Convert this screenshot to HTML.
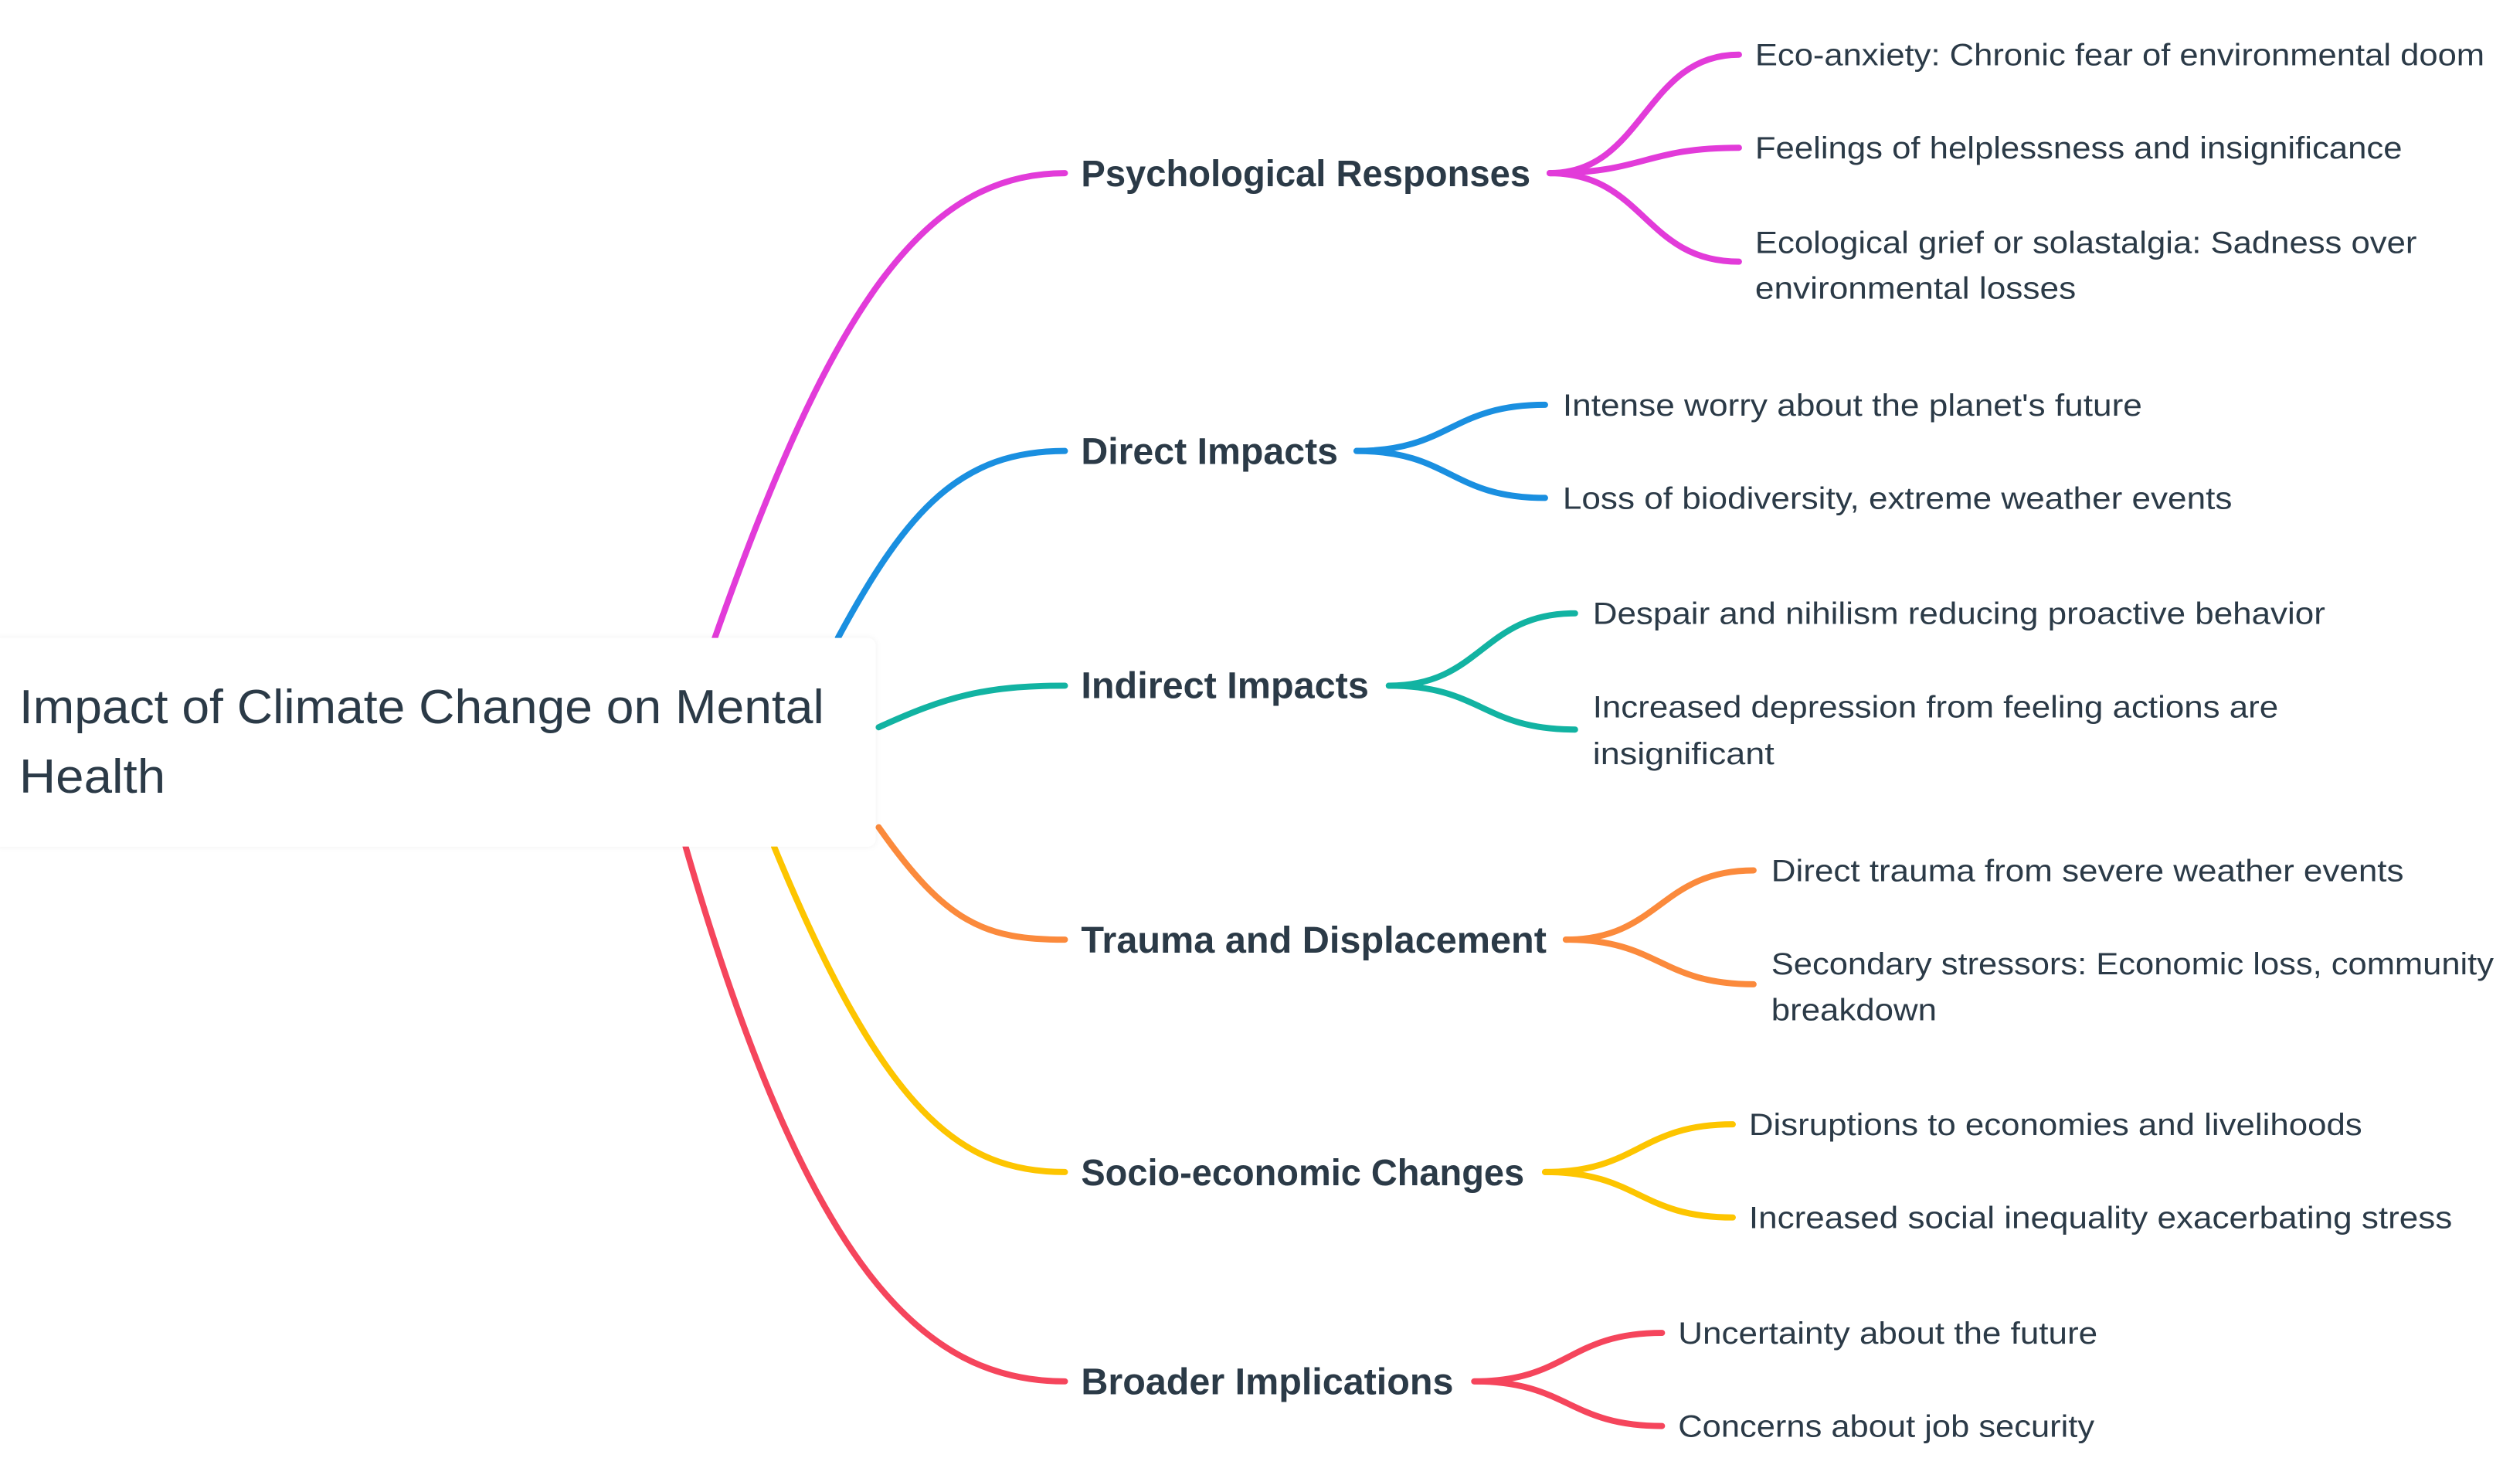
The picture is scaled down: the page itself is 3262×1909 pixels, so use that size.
<!DOCTYPE html>
<html><head><meta charset="utf-8"><style>
html,body{margin:0;padding:0;background:#fff;}
svg{display:block;}
text{font-family:"Liberation Sans",sans-serif;fill:#2b3a47;}
.b{font-weight:bold;font-size:48px;}
.c{font-size:40px;}
.r{font-size:62px;}
path{fill:none;stroke-width:8;stroke-linecap:round;}
</style></head><body>
<svg width="3262" height="1909" viewBox="0 0 3262 1909" xmlns="http://www.w3.org/2000/svg">
<defs><filter id="sh" x="-5%" y="-10%" width="110%" height="120%"><feDropShadow dx="0" dy="0" stdDeviation="4" flood-color="#000" flood-opacity="0.06"/></filter></defs>
<g transform="scale(0.996)">
<path stroke="#e23bd9" d="M929,829 C1080,400 1200,225 1384,225"/>
<path stroke="#1a8fe0" d="M1089,829 C1180,660 1250,586 1384,586"/>
<path stroke="#12b3a2" d="M1142,945 C1230,905 1280,891 1384,891"/>
<path stroke="#fb8a3c" d="M1142,1075 C1230,1200 1280,1221 1384,1221"/>
<path stroke="#fdc500" d="M1006,1100 C1150,1450 1250,1523 1384,1523"/>
<path stroke="#f5455c" d="M891,1100 C1050,1650 1200,1795 1384,1795"/>
<rect x="-10" y="829" width="1148" height="271" rx="10" fill="#fff" filter="url(#sh)"/>
<text class="r" x="25" y="940" textLength="1046" lengthAdjust="spacingAndGlyphs">Impact of Climate Change on Mental</text>
<text class="r" x="25" y="1030" textLength="190" lengthAdjust="spacingAndGlyphs">Health</text>
<text class="b" x="1405" y="242" textLength="584" lengthAdjust="spacingAndGlyphs">Psychological Responses</text>
<text class="b" x="1405" y="603" textLength="334" lengthAdjust="spacingAndGlyphs">Direct Impacts</text>
<text class="b" x="1405" y="907" textLength="374" lengthAdjust="spacingAndGlyphs">Indirect Impacts</text>
<text class="b" x="1405" y="1238" textLength="605" lengthAdjust="spacingAndGlyphs">Trauma and Displacement</text>
<text class="b" x="1405" y="1540" textLength="576" lengthAdjust="spacingAndGlyphs">Socio-economic Changes</text>
<text class="b" x="1405" y="1812" textLength="484" lengthAdjust="spacingAndGlyphs">Broader Implications</text>
<g stroke="#e23bd9">
<path d="M2014,225 C2137,225 2137,71 2260,71"/>
<path d="M2014,225 C2137,225 2137,192 2260,192"/>
<path d="M2014,225 C2137,225 2137,340 2260,340"/>
</g>
<g stroke="#1a8fe0">
<path d="M1763,586 C1885,586 1885,526 2008,526"/>
<path d="M1763,586 C1885,586 1885,647 2008,647"/>
</g>
<g stroke="#12b3a2">
<path d="M1805,891 C1926,891 1926,797 2047,797"/>
<path d="M1805,891 C1926,891 1926,948 2047,948"/>
</g>
<g stroke="#fb8a3c">
<path d="M2035,1221 C2157,1221 2157,1131 2279,1131"/>
<path d="M2035,1221 C2157,1221 2157,1279 2279,1279"/>
</g>
<g stroke="#fdc500">
<path d="M2008,1523 C2130,1523 2130,1461 2252,1461"/>
<path d="M2008,1523 C2130,1523 2130,1582 2252,1582"/>
</g>
<g stroke="#f5455c">
<path d="M1916,1795 C2038,1795 2038,1732 2160,1732"/>
<path d="M1916,1795 C2038,1795 2038,1853 2160,1853"/>
</g>
<text class="c" x="2281" y="85" textLength="948" lengthAdjust="spacingAndGlyphs">Eco-anxiety: Chronic fear of environmental doom</text>
<text class="c" x="2281" y="206" textLength="841" lengthAdjust="spacingAndGlyphs">Feelings of helplessness and insignificance</text>
<text class="c" x="2281" y="329" textLength="860" lengthAdjust="spacingAndGlyphs">Ecological grief or solastalgia: Sadness over</text>
<text class="c" x="2281" y="388" textLength="417" lengthAdjust="spacingAndGlyphs">environmental losses</text>
<text class="c" x="2031" y="540" textLength="753" lengthAdjust="spacingAndGlyphs">Intense worry about the planet's future</text>
<text class="c" x="2031" y="661" textLength="870" lengthAdjust="spacingAndGlyphs">Loss of biodiversity, extreme weather events</text>
<text class="c" x="2070" y="811" textLength="952" lengthAdjust="spacingAndGlyphs">Despair and nihilism reducing proactive behavior</text>
<text class="c" x="2070" y="932" textLength="891" lengthAdjust="spacingAndGlyphs">Increased depression from feeling actions are</text>
<text class="c" x="2070" y="993" textLength="236" lengthAdjust="spacingAndGlyphs">insignificant</text>
<text class="c" x="2302" y="1145" textLength="822" lengthAdjust="spacingAndGlyphs">Direct trauma from severe weather events</text>
<text class="c" x="2302" y="1266" textLength="939" lengthAdjust="spacingAndGlyphs">Secondary stressors: Economic loss, community</text>
<text class="c" x="2302" y="1326" textLength="215" lengthAdjust="spacingAndGlyphs">breakdown</text>
<text class="c" x="2273" y="1475" textLength="797" lengthAdjust="spacingAndGlyphs">Disruptions to economies and livelihoods</text>
<text class="c" x="2273" y="1596" textLength="914" lengthAdjust="spacingAndGlyphs">Increased social inequality exacerbating stress</text>
<text class="c" x="2181" y="1746" textLength="545" lengthAdjust="spacingAndGlyphs">Uncertainty about the future</text>
<text class="c" x="2181" y="1867" textLength="541" lengthAdjust="spacingAndGlyphs">Concerns about job security</text>
</g>
</svg>
</body></html>
